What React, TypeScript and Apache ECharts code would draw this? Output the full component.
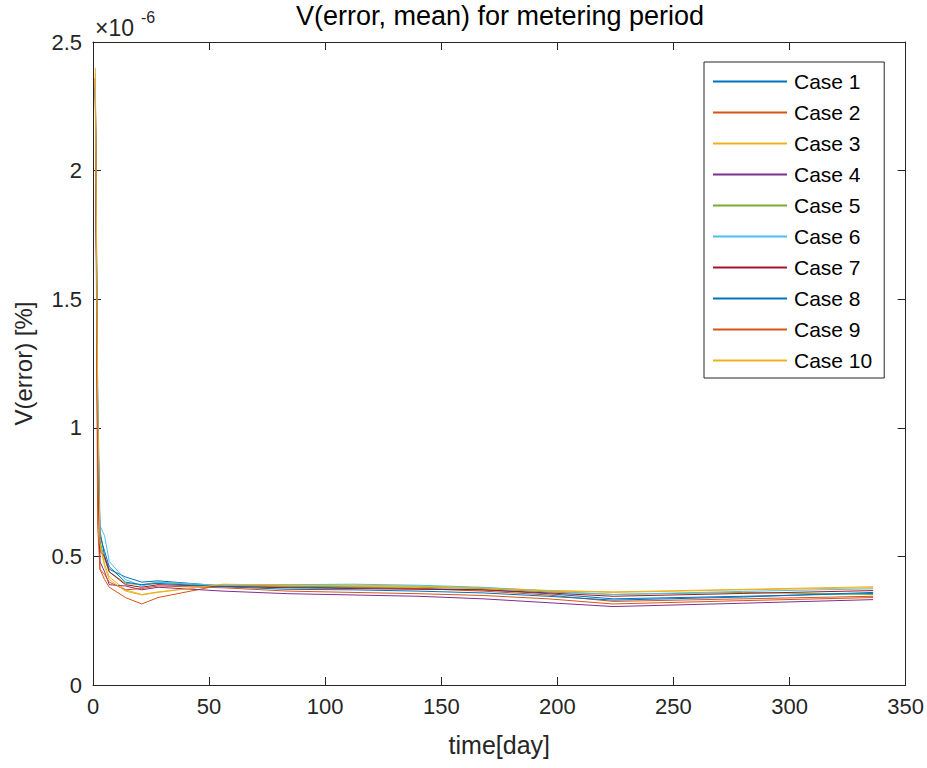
import React, { useEffect, useRef } from "react";
import * as echarts from "echarts";

// days of the metering period (x values)
const days = [1, 2, 3, 5, 7, 14, 21, 28, 56, 84, 112, 140, 168, 196, 224, 280, 336];

// V(error) values, in units of 1e-6 %
const case1 = [2.33, 1.05, 0.6, 0.5, 0.45, 0.42, 0.4, 0.405, 0.385, 0.38, 0.378, 0.375, 0.37, 0.355, 0.335, 0.345, 0.356];
const case2 = [2.36, 0.95, 0.45, 0.41, 0.38, 0.34, 0.315, 0.34, 0.39, 0.385, 0.38, 0.375, 0.365, 0.35, 0.325, 0.335, 0.345];
const case3 = [2.38, 1.0, 0.55, 0.47, 0.42, 0.37, 0.352, 0.362, 0.39, 0.39, 0.388, 0.385, 0.378, 0.368, 0.362, 0.372, 0.382];
const case4 = [2.3, 0.9, 0.48, 0.44, 0.39, 0.385, 0.37, 0.38, 0.365, 0.355, 0.35, 0.345, 0.335, 0.32, 0.305, 0.318, 0.332];
const case5 = [2.31, 1.0, 0.56, 0.49, 0.44, 0.395, 0.39, 0.4, 0.385, 0.383, 0.382, 0.38, 0.375, 0.362, 0.352, 0.36, 0.352];
const case6 = [2.34, 1.19, 0.62, 0.58, 0.48, 0.41, 0.385, 0.4, 0.387, 0.39, 0.392, 0.388, 0.38, 0.365, 0.352, 0.364, 0.374];
const case7 = [2.36, 0.94, 0.52, 0.5, 0.44, 0.39, 0.38, 0.39, 0.383, 0.378, 0.375, 0.372, 0.37, 0.358, 0.345, 0.356, 0.367];
const case8 = [2.32, 1.08, 0.58, 0.52, 0.46, 0.4, 0.39, 0.395, 0.382, 0.372, 0.37, 0.365, 0.358, 0.345, 0.33, 0.342, 0.36];
const case9 = [2.35, 0.62, 0.45, 0.43, 0.4, 0.37, 0.375, 0.385, 0.378, 0.365, 0.36, 0.355, 0.348, 0.335, 0.315, 0.328, 0.34];
const case10 = [2.4, 1.15, 0.55, 0.46, 0.41, 0.365, 0.35, 0.36, 0.392, 0.388, 0.386, 0.383, 0.377, 0.366, 0.36, 0.37, 0.378];

const seriesNames = ["Case 1", "Case 2", "Case 3", "Case 4", "Case 5", "Case 6", "Case 7", "Case 8", "Case 9", "Case 10"];
const seriesValues = [case1, case2, case3, case4, case5, case6, case7, case8, case9, case10];
const colors = ["#0072BD", "#D95319", "#EDB120", "#7E2F8E", "#77AC30", "#4DBEEE", "#A2142F", "#0072BD", "#D95319", "#EDB120"];

const xTicks = { min: 0, max: 350, interval: 50 };
const yTicks = { min: 0, max: 2.5, interval: 0.5 };

const FONT = "'Liberation Sans', Arial, sans-serif";
const AX = "#262626";

export default function App() {
  const ref = useRef<HTMLDivElement>(null);
  useEffect(() => {
    if (!ref.current) return;
    const chart = echarts.init(ref.current, undefined, { renderer: "svg" });
    const axisCommon = {
      axisLine: { show: true, onZero: false, lineStyle: { color: AX, width: 1 } },
      axisTick: { show: true, inside: true, length: 8, lineStyle: { color: AX, width: 1 } },
      splitLine: { show: false },
    };
    chart.setOption({
      animation: false,
      backgroundColor: "#ffffff",
      textStyle: { fontFamily: FONT },
      grid: { left: 93, right: 21, top: 42, bottom: 83, containLabel: false },
      legend: {
        orient: "vertical",
        left: 704,
        top: 62,
        itemWidth: 74,
        itemHeight: 21,
        itemGap: 10,
        padding: [9, 12, 7, 8],
        borderColor: AX,
        borderWidth: 1,
        backgroundColor: "#ffffff",
        itemStyle: { opacity: 0 },
        textStyle: { fontSize: 21, color: "#000", fontFamily: FONT, padding: [0, 0, 0, 2] },
        data: seriesNames,
      },
      xAxis: [
        {
          type: "value",
          ...xTicks,
          ...axisCommon,
          position: "bottom",
          name: "time[day]",
          nameLocation: "middle",
          nameGap: 47,
          nameTextStyle: { fontSize: 25, color: AX, fontFamily: FONT },
          axisLabel: { fontSize: 22, color: AX, margin: 10, fontFamily: FONT },
        },
        {
          type: "value",
          ...xTicks,
          ...axisCommon,
          position: "top",
          axisLabel: { show: false },
        },
      ],
      yAxis: [
        {
          type: "value",
          ...yTicks,
          ...axisCommon,
          position: "left",
          name: "V(error) [%]",
          nameLocation: "middle",
          nameGap: 58,
          nameTextStyle: { fontSize: 24, color: AX, fontFamily: FONT },
          axisLabel: { fontSize: 22, color: AX, margin: 11, fontFamily: FONT },
        },
        {
          type: "value",
          ...yTicks,
          ...axisCommon,
          position: "right",
          axisLabel: { show: false },
        },
      ],
      graphic: [
        {
          type: "text",
          x: 500,
          y: 2,
          style: {
            text: "V(error, mean) for metering period",
            fontSize: 27,
            fontFamily: FONT,
            fill: "#000",
            align: "center",
            verticalAlign: "top",
          },
        },
        {
          type: "text",
          x: 95,
          y: 16,
          style: {
            text: "×10",
            fontSize: 23,
            fontFamily: FONT,
            fill: AX,
            verticalAlign: "top",
          },
        },
        {
          type: "text",
          x: 141,
          y: 9,
          style: {
            text: "-6",
            fontSize: 16,
            fontFamily: FONT,
            fill: AX,
            verticalAlign: "top",
          },
        },
      ],
      series: seriesValues.map((vals, i) => ({
        name: seriesNames[i],
        type: "line",
        xAxisIndex: 0,
        yAxisIndex: 0,
        symbol: "none",
        color: colors[i],
        lineStyle: { width: 1, color: colors[i] },
        data: days.map((d, j) => [d, vals[j]]),
      })),
    });
    return () => chart.dispose();
  }, []);
  return (
    <div
      ref={ref}
      style={{ position: "fixed", left: 0, top: 0, width: 927, height: 768, background: "#fff" }}
    />
  );
}
